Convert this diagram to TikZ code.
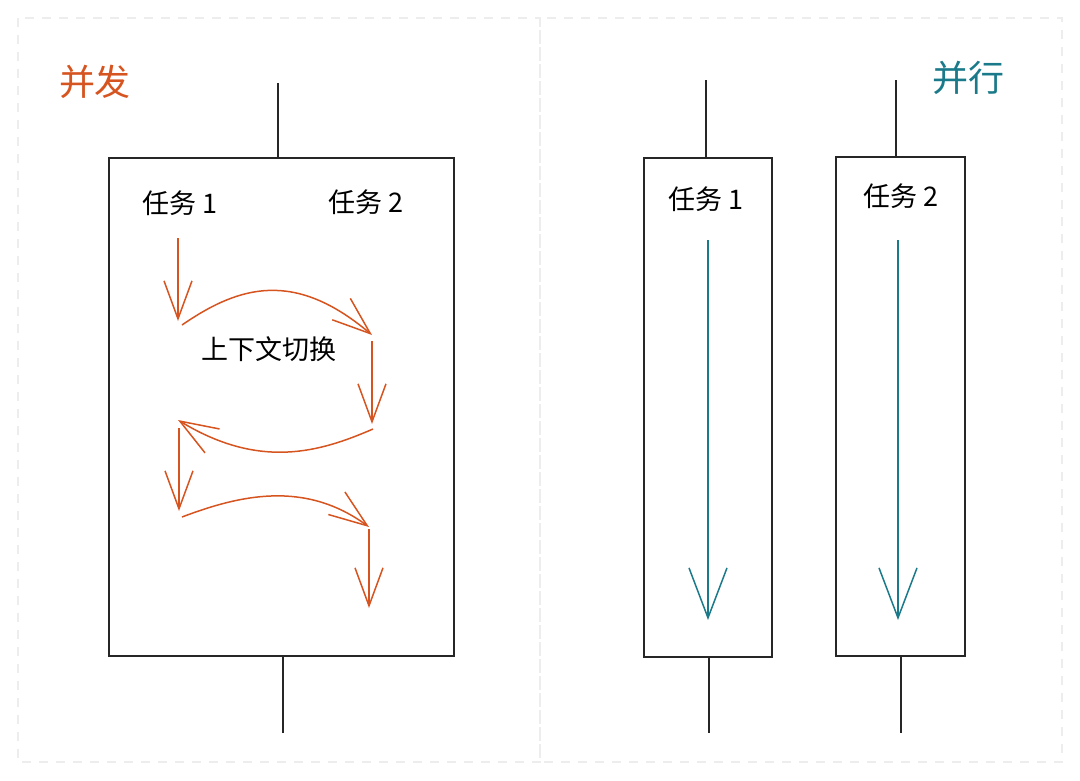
\documentclass[tikz,border=0pt]{standalone}
\usepackage{fontspec}
\newfontfamily\cjk{Noto Sans CJK SC}
\usetikzlibrary{arrows.meta}
\definecolor{conc}{HTML}{D6541F}
\definecolor{para}{HTML}{1B7A8A}
\tikzset{
  frame/.style={draw=black!7,line width=1.2pt,dash pattern=on 9pt off 8pt},
  box/.style={draw=black!85,line width=1.6pt},
  stem/.style={draw=black!85,line width=1.6pt},
  task/.style={font=\cjk\fontsize{27}{31}\selectfont},
  title/.style={font=\cjk\fontsize{36}{40}\selectfont},
  hop/.style={conc,line width=1.5pt,-{Straight Barb[length=38pt,width=28pt,line width=1.5pt]}},
  run/.style={para,line width=1.5pt,-{Straight Barb[length=50pt,width=38pt,line width=1.5pt]}}
}
\begin{document}
\begin{tikzpicture}[x=1pt,y=-1pt]
\useasboundingbox (0,0) rectangle (1080,780);
% panels
\draw[frame] (18,18) rectangle (540,762); \draw[frame] (540,18) rectangle (1062,762);
% concurrency
\begin{scope}
\node[title,text=conc] (tconc) at (95,82) {并发};
\draw[box] (109,158) rectangle (454,656);
\coordinate (ctop) at (278,83); \coordinate (cbot) at (283,733);
\draw[stem] (ctop)--(278,158); \draw[stem] (283,656)--(cbot);
\node[task] (c1) at (180,203) {任务 1}; \node[task] (c2) at (366,202) {任务 2};
\node[task] (switch) at (269,349) {上下文切换};
\coordinate (a0) at (178,238); \coordinate (a1) at (178,321);
\coordinate (b0) at (182,325); \coordinate (b1) at (372,335);
\coordinate (d0) at (372,341); \coordinate (d1) at (372,424);
\coordinate (e0) at (373,429); \coordinate (e1) at (178,420);
\coordinate (f0) at (179,428); \coordinate (f1) at (179,511);
\coordinate (g0) at (182,517); \coordinate (g1) at (369,527);
\coordinate (h0) at (369,529); \coordinate (h1) at (369,608);
\draw[hop] (a0)--(a1); \draw[hop] (b0) .. controls (240,285) and (295,270) .. (b1);
\draw[hop] (d0)--(d1); \draw[hop] (e0) .. controls (320,452) and (260,470) .. (e1);
\draw[hop] (f0)--(f1); \draw[hop] (g0) .. controls (240,495) and (305,480) .. (g1);
\draw[hop] (h0)--(h1);
\end{scope}
% parallelism
\begin{scope}
\node[title,text=para] (tpara) at (968,78) {并行};
\draw[box] (644,158) rectangle (772,657); \draw[box] (836,157) rectangle (965,656);
\coordinate (p1top) at (706,80); \coordinate (p1bot) at (709,733);
\coordinate (p2top) at (896,80); \coordinate (p2bot) at (901,733);
\draw[stem] (p1top)--(706,158); \draw[stem] (709,657)--(p1bot);
\draw[stem] (p2top)--(896,157); \draw[stem] (901,656)--(p2bot);
\node[task] (p1) at (706,199) {任务 1}; \node[task] (p2) at (901,196) {任务 2};
\coordinate (r1s) at (708,240); \coordinate (r1e) at (708,620);
\coordinate (r2s) at (898,240); \coordinate (r2e) at (898,620);
\draw[run] (r1s)--(r1e); \draw[run] (r2s)--(r2e);
\end{scope}
\end{tikzpicture}
\end{document}
